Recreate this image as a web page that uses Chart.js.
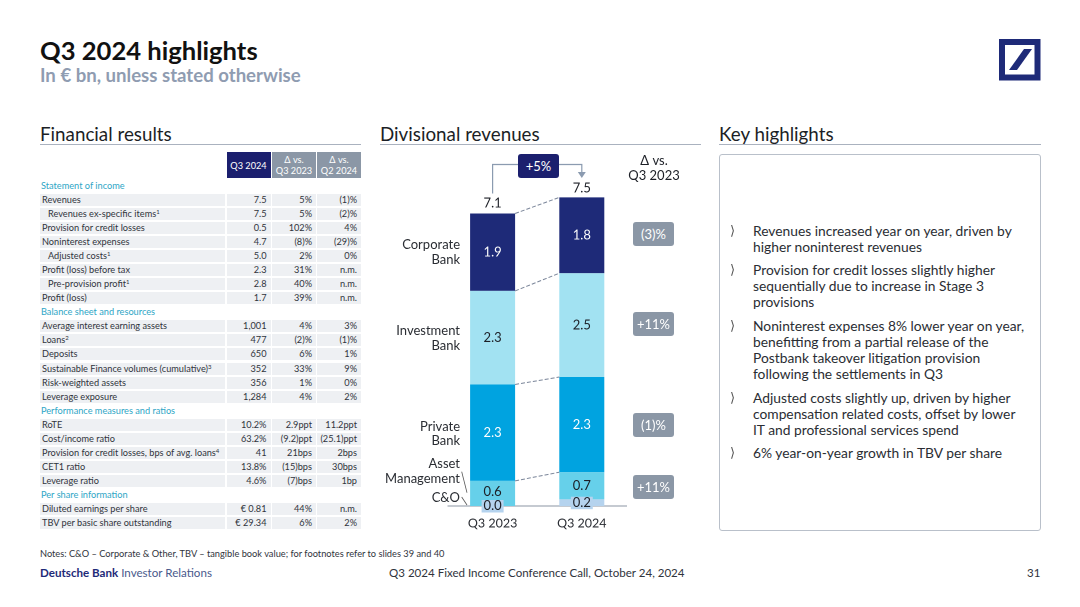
<!DOCTYPE html>
<html>
<head>
<meta charset="utf-8">
<title>Q3 2024 highlights</title>
<script src="https://cdn.jsdelivr.net/npm/chart.js@4"></script>
<style>
    html, body { margin: 0; padding: 0; background: #fff; }
    body { width: 1080px; height: 607px; overflow: hidden; position: relative; font-family: Lato, sans-serif; color: #1c1f26; }
    .abs { position: absolute; white-space: nowrap; }
    .mid { transform: translateY(-50%); line-height: 1; }
    .rule { position: absolute; top: 144px; height: 1px; background: #aab2bf; }
    .head { font-size: 18.8px; top: 133.5px; }
    .cell { position: absolute; height: 12px; background: #eef0f3; font-size: 9.2px; line-height: 12px; color: #30343c; }
    .cell.num { text-align: right; padding-right: 4px; box-sizing: border-box; }
    .cell.lab { padding-left: 2px; box-sizing: border-box; }
    .hdr { position: absolute; top: 152px; height: 26px; color: #fff; font-size: 9.2px; line-height: 11px; text-align: center; display: flex; align-items: center; justify-content: center; }
    .sec { position: absolute; font-size: 9.2px; color: #2ea6c6; line-height: 12px; }
    sup { font-size: 6px; line-height: 0; vertical-align: 3px; }
    .pill { position: absolute; left: 633px; width: 41px; height: 24px; border-radius: 3px; background: #8b97a6; color: #fff; font-size: 13px; line-height: 24px; text-align: center; }
    .name { position: absolute; right: 620px; font-size: 13px; white-space: nowrap; color: #2a2d33; transform: translateY(-50%); }
    .line { position: absolute; left: 753px; font-size: 13.8px; white-space: nowrap; transform: translateY(-50%); color: #2a2d33; }
    .chev { position: absolute; left: 730px; font-size: 13px; font-family: "DejaVu Sans"; transform: translateY(-50%); color: #555; }
    #chart-box { position: absolute; left: 380px; top: 145px; width: 320px; height: 395px; }
</style>
</head>
<body>
<div class="abs mid" style="left:40px;top:51px;font-size:25.6px;font-weight:700;color:#111">Q3 2024 highlights</div>
<div class="abs mid" style="left:40px;top:75px;font-size:18.6px;font-weight:700;color:#8f9cb1">In € bn, unless stated otherwise</div>
<svg class="abs" style="left:999px;top:39px" width="42" height="42" viewBox="0 0 42 42">
    <rect x="3" y="3" width="35.5" height="35.5" fill="#fff" stroke="#1e2a78" stroke-width="6"/>
    <polygon points="25,10 33,10 18,31 10,31" fill="#1e2a78"/>
</svg>

<div class="abs mid head" style="left:40px">Financial results</div>
<div class="abs mid head" style="left:380px">Divisional revenues</div>
<div class="abs mid head" style="left:719px">Key highlights</div>
<div class="rule" style="left:40px;width:321px"></div>
<div class="rule" style="left:380px;width:321px"></div>
<div class="rule" style="left:719px;width:322px"></div>

<div id="table-box"></div>

<div id="chart-box"><canvas id="revenue-chart"></canvas></div>
<div id="chart-text"></div>

<div class="abs" style="left:719px;top:154px;width:320px;height:375px;border:1px solid #b9c0ca;border-radius:3px"></div>
<div id="key-box"></div>

<div class="abs mid" style="left:40px;top:554px;font-size:9.25px;color:#30343c">Notes: C&amp;O – Corporate &amp; Other, TBV – tangible book value; for footnotes refer to slides 39 and 40</div>
<div class="abs mid" style="left:40px;top:573px;font-size:11.6px;color:#1e2a78"><b>Deutsche Bank</b> <span style="color:#4a5a8c">Investor Relations</span></div>
<div class="abs mid" style="left:389px;top:573px;font-size:11.55px;color:#30343c">Q3 2024 Fixed Income Conference Call, October 24, 2024</div>
<div class="abs mid" style="left:1027px;top:573px;font-size:11.5px;color:#30343c">31</div>

<script>
// --- 1. Chart data ---
const categories = ["Q3 2023", "Q3 2024"];
const corporateBank = [1.88, 1.84];
const investmentBank = [2.27, 2.52];
const privateBank = [2.34, 2.31];
const assetManagement = [0.61, 0.66];
const corporateOther = [0.0, 0.16];
const totals = [7.1, 7.5];
const totalChange = "+5%";
const deltaLabels = ["(3)%", "+11%", "(1)%", "+11%"];

// --- 2. Table data ---
const tableHeaders = ["Q3 2024", "Δ vs.<br>Q3 2023", "Δ vs.<br>Q2 2024"];
// section rows have one entry, indented rows start with ">"
const tableRows = [
    ["Statement of income"],
    ["Revenues", "7.5", "5%", "(1)%"],
    [">Revenues ex-specific items<sup>1</sup>", "7.5", "5%", "(2)%"],
    ["Provision for credit losses", "0.5", "102%", "4%"],
    ["Noninterest expenses", "4.7", "(8)%", "(29)%"],
    [">Adjusted costs<sup>1</sup>", "5.0", "2%", "0%"],
    ["Profit (loss) before tax", "2.3", "31%", "n.m."],
    [">Pre-provision profit<sup>1</sup>", "2.8", "40%", "n.m."],
    ["Profit (loss)", "1.7", "39%", "n.m."],
    ["Balance sheet and resources"],
    ["Average interest earning assets", "1,001", "4%", "3%"],
    ["Loans<sup>2</sup>", "477", "(2)%", "(1)%"],
    ["Deposits", "650", "6%", "1%"],
    ["Sustainable Finance volumes (cumulative)<sup>3</sup>", "352", "33%", "9%"],
    ["Risk-weighted assets", "356", "1%", "0%"],
    ["Leverage exposure", "1,284", "4%", "2%"],
    ["Performance measures and ratios"],
    ["RoTE", "10.2%", "2.9ppt", "11.2ppt"],
    ["Cost/income ratio", "63.2%", "(9.2)ppt", "(25.1)ppt"],
    ["Provision for credit losses, bps of avg. loans<sup>4</sup>", "41", "21bps", "2bps"],
    ["CET1 ratio", "13.8%", "(15)bps", "30bps"],
    ["Leverage ratio", "4.6%", "(7)bps", "1bp"],
    ["Per share information"],
    ["Diluted earnings per share", "€ 0.81", "44%", "n.m."],
    ["TBV per basic share outstanding", "€ 29.34", "6%", "2%"]
];

const keyHighlights = [
    ["Revenues increased year on year, driven by", "higher noninterest revenues"],
    ["Provision for credit losses slightly higher", "sequentially due to increase in Stage 3", "provisions"],
    ["Noninterest expenses 8% lower year on year,", "benefitting from a partial release of the", "Postbank takeover litigation provision", "following the settlements in Q3"],
    ["Adjusted costs slightly up, driven by higher", "compensation related costs, offset by lower", "IT and professional services spend"],
    ["6% year-on-year growth in TBV per share"]
];

// --- 3. Table ---
const colLeft = [226.5, 272, 317];
const colWidth = [44, 44, 44];

function addTable() {
    const box = document.getElementById("table-box");
    let html = "";
    tableHeaders.forEach((h, i) => {
        html += `<div class="hdr" style="left:${colLeft[i]}px;width:${colWidth[i]}px;background:${i === 0 ? "#1b1f6e" : "#8b97a6"}">${h}</div>`;
    });
    tableRows.forEach((row, r) => {
        const top = 186 + r * 14.04 - 6;
        if (row.length === 1) {
            html += `<div class="sec" style="left:41px;top:${top}px">${row[0]}</div>`;
            return;
        }
        const indent = row[0][0] === ">";
        const label = indent ? row[0].slice(1) : row[0];
        html += `<div class="cell lab" style="left:40px;width:185px;top:${top}px;padding-left:${indent ? 8 : 2}px">${label}</div>`;
        for (let i = 0; i < 3; i++) {
            html += `<div class="cell num" style="left:${colLeft[i]}px;width:${colWidth[i]}px;top:${top}px">${row[i + 1]}</div>`;
        }
    });
    box.innerHTML = html;
}

// --- 4. Side labels around the chart ---
function addChartText() {
    const names = [["Corporate", 244], ["Bank", 259], ["Investment", 330], ["Bank", 345], ["Private", 425.5], ["Bank", 440], ["Asset", 463], ["Management", 478], ["C&O", 497]];
    const pillTops = [222, 312, 413, 475];
    let html = "";
    names.forEach(n => {
        html += `<div class="name" style="top:${n[1]}px">${n[0].replace("&", "&amp;")}</div>`;
    });
    deltaLabels.forEach((d, i) => {
        html += `<div class="pill" style="top:${pillTops[i]}px">${d}</div>`;
    });
    html += `<div class="abs mid" style="left:614px;width:80px;text-align:center;top:160px;font-size:13px">Δ vs.</div>`;
    html += `<div class="abs mid" style="left:614px;width:80px;text-align:center;top:175px;font-size:13px">${categories[0]}</div>`;
    html += `<div class="abs" style="left:518px;top:154px;width:41px;height:24px;border-radius:3px;background:#1b1f6e;color:#fff;font-size:13px;line-height:24px;text-align:center">${totalChange}</div>`;
    document.getElementById("chart-text").innerHTML = html;
}

function addKeyHighlights() {
    const firstLine = [230.3, 269.1, 325, 396.5, 451.8];
    let html = "";
    keyHighlights.forEach((lines, i) => {
        html += `<div class="chev" style="top:${firstLine[i]}px">⟩</div>`;
        lines.forEach((text, j) => {
            html += `<div class="line" style="top:${firstLine[i] + j * 16}px">${text}</div>`;
        });
    });
    document.getElementById("key-box").innerHTML = html;
}

// --- 5. Plugin: labels, connectors and bracket ---
const barAnnotations = {
    id: "barAnnotations",
    afterDatasetsDraw(chart) {
        const ctx = chart.ctx;
        const metas = chart.data.datasets.map((d, i) => chart.getDatasetMeta(i));
        const halfWidth = metas[0].data[0].width / 2;

        // dashed connectors between the tops of the stacks
        ctx.save();
        ctx.strokeStyle = "#7a8599";
        ctx.lineWidth = 1;
        ctx.setLineDash([4, 2]);
        for (let i = 1; i < metas.length; i++) {
            const a = metas[i].data[0], b = metas[i].data[1];
            ctx.beginPath();
            ctx.moveTo(a.x + halfWidth, a.y);
            ctx.lineTo(b.x - halfWidth, b.y);
            ctx.stroke();
        }
        ctx.restore();

        // leader lines to the two small segments
        ctx.save();
        ctx.strokeStyle = "#555";
        ctx.lineWidth = 0.8;
        [[81.7, 326.7, 87, 347.7], [81.7, 352, 87, 360]].forEach(p => {
            ctx.beginPath();
            ctx.moveTo(p[0], p[1]);
            ctx.lineTo(p[2], p[3]);
            ctx.stroke();
        });
        ctx.restore();

        // segment values
        ctx.save();
        ctx.font = "13px Lato, sans-serif";
        ctx.textAlign = "center";
        ctx.textBaseline = "middle";
        chart.data.datasets.forEach((ds, i) => {
            metas[i].data.forEach((bar, j) => {
                const text = ds.data[j].toFixed(1);
                let y = (bar.y + bar.base) / 2;
                if (ds.label === "C&O") {
                    if (j === 0) y = bar.base;
                    ctx.fillStyle = "#b5d3ee";
                    ctx.fillRect(bar.x - 11, y - 6, 22, 12.5);
                }
                if (ds.label === "Asset Management" && j === 0) y -= 1.5;
                ctx.fillStyle = ds.labelColor;
                ctx.fillText(text, bar.x, y);
            });
        });

        // totals and the bracket between them
        const top = metas[metas.length - 1].data;
        ctx.fillStyle = "#1c1f26";
        ctx.fillText(totals[0].toFixed(1), top[0].x, top[0].y - 10);
        ctx.fillText(totals[1].toFixed(1), top[1].x, top[1].y - 9);
        ctx.strokeStyle = "#8b9bb0";
        ctx.fillStyle = "#8b9bb0";
        ctx.lineWidth = 1.2;
        ctx.beginPath();
        ctx.moveTo(top[0].x, top[0].y - 20);
        ctx.lineTo(top[0].x, 19.5);
        ctx.lineTo(top[1].x, 19.5);
        ctx.lineTo(top[1].x, 28);
        ctx.stroke();
        ctx.beginPath();
        ctx.moveTo(top[1].x - 4, 27);
        ctx.lineTo(top[1].x + 4, 27);
        ctx.lineTo(top[1].x, 33);
        ctx.closePath();
        ctx.fill();
        ctx.restore();
    }
};

// --- 6. Chart ---
function drawChart() {
    const series = [
        { label: "C&O", data: corporateOther, backgroundColor: "#b5d3ee", labelColor: "#1c1f26" },
        { label: "Asset Management", data: assetManagement, backgroundColor: "#66d0ea", labelColor: "#1c1f26" },
        { label: "Private Bank", data: privateBank, backgroundColor: "#00a3e0", labelColor: "#ffffff" },
        { label: "Investment Bank", data: investmentBank, backgroundColor: "#a2e2f2", labelColor: "#1c1f26" },
        { label: "Corporate Bank", data: corporateBank, backgroundColor: "#1e2a78", labelColor: "#ffffff" }
    ];
    new Chart(document.getElementById("revenue-chart"), {
        type: "bar",
        data: {
            labels: categories,
            datasets: series.map(s => ({ ...s, stack: "revenues", barPercentage: 45 / 89.2, categoryPercentage: 1, borderWidth: 0 }))
        },
        options: {
            responsive: false,
            animation: false,
            devicePixelRatio: 2,
            layout: { padding: { left: 68, right: 73.6, top: 0, bottom: 6 } },
            plugins: { legend: { display: false }, tooltip: { enabled: false } },
            scales: {
                x: {
                    stacked: true,
                    grid: { display: false, drawTicks: false },
                    border: { color: "#8b95a3", width: 1 },
                    ticks: { color: "#2a2d33", font: { family: "Lato, sans-serif", size: 12.5 }, padding: 10, maxRotation: 0 },
                    afterFit: axis => { axis.height = 28; }
                },
                y: { stacked: true, display: false, min: 0, max: 361 / 41.2 }
            }
        },
        plugins: [barAnnotations]
    });
}

window.onload = () => {
    addTable();
    addChartText();
    addKeyHighlights();
    const canvas = document.getElementById("revenue-chart");
    canvas.width = 320;
    canvas.height = 395;
    canvas.style.width = "320px";
    canvas.style.height = "395px";
    drawChart();
};
</script>
</body>
</html>
